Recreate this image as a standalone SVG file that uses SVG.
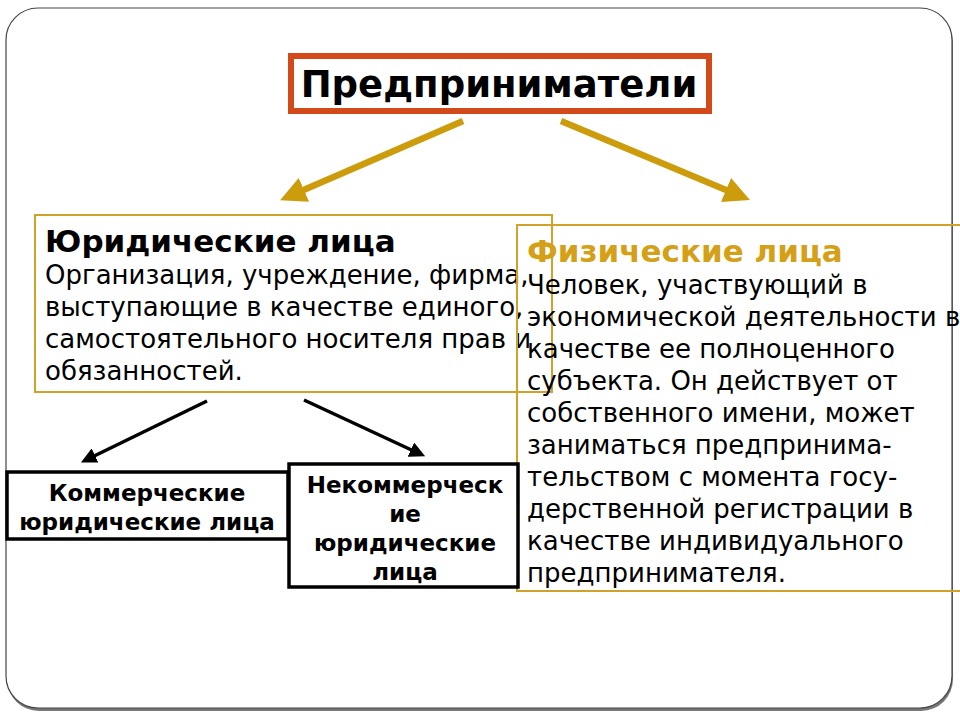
<svg xmlns="http://www.w3.org/2000/svg" width="960" height="720" viewBox="0 0 960 720">
<style>
text{font-family:"DejaVu Sans","Noto Sans",sans-serif;fill:#000}
.b{font-weight:bold}
.body{font-size:26px}
.sm{font-size:23px;font-weight:bold;text-anchor:middle}
.gold{fill:none;stroke:#cfa22a;stroke-width:2}
.blk{fill:#fff;stroke:#000;stroke-width:3.5}
</style>
<defs>
<marker id="ga" viewBox="0 0 10 10" refX="5" refY="5" markerWidth="4" markerHeight="4" orient="auto" markerUnits="strokeWidth"><path d="M0,0 L10,5 L0,10 z" fill="#cc9c0c"/></marker>
<marker id="ba" viewBox="0 0 10 10" refX="5" refY="5" markerWidth="4.5" markerHeight="4.5" orient="auto" markerUnits="strokeWidth"><path d="M0,0 L10,5 L0,10 z" fill="#000"/></marker>
</defs>
<rect x="0" y="0" width="960" height="720" fill="#fff"/>
<rect x="7" y="11" width="946" height="700" rx="32" fill="#777"/>
<rect x="6" y="8" width="946" height="700" rx="32" fill="#fff" stroke="#444" stroke-width="1.2"/>
<g id="title">
<rect x="291" y="56" width="418" height="55" fill="#fff" stroke="#d24a1a" stroke-width="6"/>
<text x="499" y="97" class="b" font-size="37" text-anchor="middle">Предприниматели</text>
</g>
<g id="legal">
<rect x="35" y="215" width="517" height="177" class="gold"/>
<text x="45" y="252" class="b" font-size="31">Юридические лица</text>
<text class="body"><tspan x="45" y="284">Организация, учреждение, фирма,</tspan><tspan x="45" y="316">выступающие в качестве единого,</tspan><tspan x="45" y="348">самостоятельного носителя прав и</tspan><tspan x="45" y="380">обязанностей.</tspan></text>
</g>
<g id="natural">
<rect x="517" y="225" width="450" height="366" class="gold"/>
<text x="527" y="262" class="b" font-size="31" style="fill:#d4a017">Физические лица</text>
<text class="body"><tspan x="527" y="294">Человек, участвующий в</tspan><tspan x="527" y="326">экономической деятельности в</tspan><tspan x="527" y="358">качестве ее полноценного</tspan><tspan x="527" y="390">субъекта. Он действует от</tspan><tspan x="527" y="422">собственного имени, может</tspan><tspan x="527" y="454">заниматься предпринима-</tspan><tspan x="527" y="486">тельством с момента госу-</tspan><tspan x="527" y="518">дерственной регистрации в</tspan><tspan x="527" y="550">качестве индивидуального</tspan><tspan x="527" y="582">предпринимателя.</tspan></text>
</g>
<g id="commercial">
<rect x="7" y="472" width="281" height="67" class="blk"/>
<text class="sm"><tspan x="147" y="501">Коммерческие</tspan><tspan x="147" y="530">юридические лица</tspan></text>
</g>
<g id="noncommercial">
<rect x="289" y="464" width="229" height="123" class="blk"/>
<text class="sm"><tspan x="405" y="493">Некоммерческ</tspan><tspan x="405" y="522">ие</tspan><tspan x="405" y="551">юридические</tspan><tspan x="405" y="580">лица</tspan></text>
</g>
<g id="connectors">
<line x1="463" y1="121" x2="292" y2="195" stroke="#cc9c0c" stroke-width="6.5" marker-end="url(#ga)"/>
<line x1="561" y1="121" x2="738" y2="195" stroke="#cc9c0c" stroke-width="6.5" marker-end="url(#ga)"/>
<line x1="207" y1="401" x2="88" y2="459" stroke="#000" stroke-width="3.5" marker-end="url(#ba)"/>
<line x1="304" y1="400" x2="418" y2="453" stroke="#000" stroke-width="3.5" marker-end="url(#ba)"/>
</g>
</svg>
